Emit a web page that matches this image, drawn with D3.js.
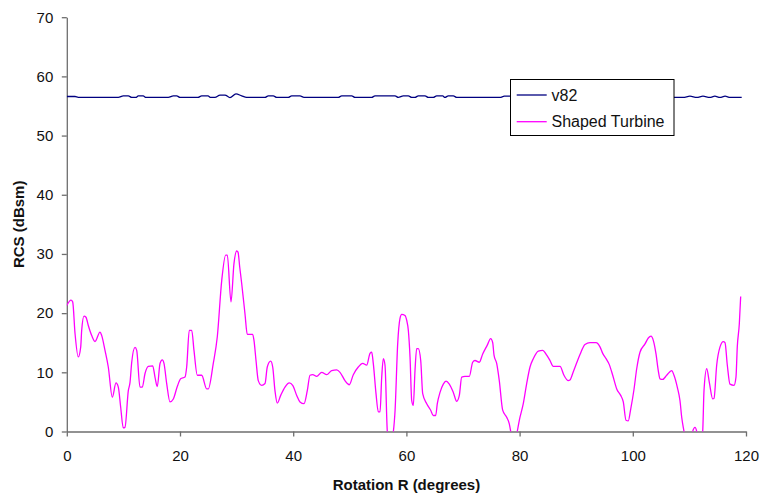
<!DOCTYPE html>
<html>
<head>
<meta charset="utf-8">
<script src="https://cdn.jsdelivr.net/npm/d3@7"></script>
<style>
  html, body { margin: 0; padding: 0; background: #fff; }
  svg { display: block; font-family: "Liberation Sans", Arial, sans-serif; }
</style>
</head>
<body>
<svg id="chart" width="762" height="497"></svg>
<script>
// ---- data ----
const xTicks = [0, 20, 40, 60, 80, 100, 120];
const yTicks = [0, 10, 20, 30, 40, 50, 60, 70];
const seriesNames = ["v82", "Shaped Turbine"];

// v82: [rotation degrees, RCS dBsm]
const v82 = [
  [0, 56.6], [1.45, 56.6], [2.03, 56.45], [9.1, 56.45], [9.98, 56.7], [10.87, 56.7],
  [11.47, 56.45], [12.2, 56.45], [12.63, 56.7], [13.5, 56.7], [13.99, 56.45],
  [17.93, 56.45], [18.82, 56.7], [19.42, 56.7], [20.0, 56.45], [23.18, 56.45],
  [23.83, 56.7], [24.95, 56.7], [25.42, 56.45], [26.18, 56.45], [27.07, 56.85],
  [27.95, 56.85], [28.83, 56.4], [29.89, 57.05], [30.9, 56.7], [31.78, 56.45],
  [35.02, 56.45], [35.6, 56.7], [36.48, 56.7], [37.08, 56.45], [39.13, 56.45],
  [39.73, 56.7], [41.2, 56.7], [41.91, 56.45], [47.97, 56.45], [48.57, 56.7],
  [50.34, 56.7], [50.92, 56.45], [53.87, 56.45], [54.45, 56.7], [57.99, 56.7],
  [58.57, 56.45], [59.45, 56.7], [60.34, 56.7], [60.94, 56.45], [61.52, 56.45],
  [62.1, 56.7], [63.29, 56.7], [63.87, 56.45], [64.75, 56.45], [65.35, 56.7],
  [66.41, 56.7], [66.82, 56.45], [67.4, 56.7], [68.29, 56.7], [68.89, 56.45],
  [76.54, 56.45], [77.3, 56.65], [78.3, 56.65], [79.0, 56.45], [84.0, 56.45],
  [84.8, 56.65], [86.0, 56.65], [86.7, 56.45], [95.0, 56.45], [95.8, 56.65],
  [97.0, 56.65], [97.7, 56.45], [107.4, 56.45], [108.9, 56.45], [110.1, 56.65],
  [111.3, 56.45], [112.4, 56.65], [113.6, 56.45], [114.5, 56.65], [115.4, 56.45],
  [116.3, 56.65], [117.2, 56.45], [119.24, 56.45]
];

// Shaped Turbine: [rotation degrees, RCS dBsm]
const shaped = [
  [0.0, 21.3], [0.74, 22.2], [1.04, 21.9], [1.45, 16.6], [2.03, 12.6], [2.46, 14.3],
  [2.63, 17.1], [3.04, 19.5], [3.39, 19.3], [3.8, 17.9], [4.4, 16.2], [4.98, 15.2],
  [5.87, 16.8], [6.17, 16.2], [6.75, 13.7], [7.33, 10.9], [8.04, 5.8], [8.69, 8.2],
  [9.1, 7.5], [9.52, 4.1], [9.98, 0.6], [10.28, 0.7], [10.87, 6.9], [11.17, 8.3],
  [11.47, 11.7], [12.05, 14.2], [12.35, 13.7], [12.93, 7.5], [13.34, 7.5], [13.82, 9.8],
  [14.4, 11.0], [15.18, 11.1], [15.58, 9.2], [15.99, 7.6], [16.47, 11.5], [16.87, 12.1],
  [17.17, 11.5], [17.65, 8.1], [18.23, 5.0], [18.82, 5.5], [19.52, 7.6], [20.12, 8.9],
  [20.88, 9.2], [21.18, 10.9], [21.64, 17.1], [22.07, 17.1], [22.47, 13.7], [23.06, 9.5],
  [23.83, 9.5], [24.72, 7.2], [25.0, 7.2], [25.88, 11.5], [26.59, 16.0], [27.37, 25.5],
  [28.07, 29.8], [28.36, 29.8], [29.01, 21.9], [29.54, 28.4], [30.02, 30.5], [30.25, 30.3],
  [30.55, 27.8], [30.9, 25.0], [31.48, 19.9], [31.89, 16.4], [32.84, 16.4], [33.07, 15.4],
  [33.43, 12.0], [33.83, 8.6], [34.43, 7.8], [35.02, 8.1], [35.42, 10.9], [36.02, 11.9],
  [36.38, 10.9], [36.78, 6.9], [37.19, 4.8], [37.79, 6.1], [38.55, 7.5], [39.31, 8.2],
  [39.91, 7.8], [40.62, 6.1], [41.2, 5.0], [41.91, 4.7], [42.49, 6.9], [42.97, 9.5],
  [43.45, 9.6], [44.15, 9.3], [45.04, 10.0], [45.92, 9.6], [46.8, 10.3], [47.69, 10.4],
  [48.27, 10.0], [49.15, 8.6], [49.91, 7.9], [50.62, 9.6], [51.5, 10.9], [52.28, 11.5],
  [52.99, 11.2], [53.57, 13.2], [53.87, 13.4], [54.15, 11.5], [54.63, 6.4], [55.04, 3.3],
  [55.34, 3.3], [55.64, 9.2], [55.92, 12.3], [56.22, 11.2], [56.63, 0], [57.0, -2],
  [57.4, -1.5], [57.7, 0], [58.0, 3.6], [58.46, 14.8], [58.87, 19.1], [59.17, 19.8],
  [59.75, 19.6], [60.05, 18.8], [60.34, 17.1], [60.64, 12.6], [60.94, 5.2], [61.22, 4.4],
  [61.52, 10.3], [61.82, 14.0], [62.1, 14.0], [62.53, 12.0], [62.88, 6.4], [63.59, 4.7],
  [64.29, 3.6], [64.75, 2.7], [65.17, 2.7], [65.46, 4.7], [65.94, 6.6], [66.52, 8.0],
  [67.0, 8.5], [67.58, 8.0], [68.29, 6.6], [68.89, 5.1], [69.35, 6.1], [69.77, 9.2],
  [70.35, 9.3], [71.11, 9.3], [71.71, 11.7], [72.12, 12.0], [72.88, 11.7], [73.48, 13.1],
  [74.29, 14.6], [74.89, 15.7], [75.25, 15.0], [75.48, 12.9], [75.95, 11.5], [76.41, 8.6],
  [77.01, 3.6], [77.72, 2.4], [78.18, 1.3], [78.43, 0], [78.75, -2], [79.27, -2],
  [79.59, 0], [79.95, 1.9], [80.65, 4.7], [81.25, 8.1], [81.84, 10.9], [82.42, 12.3],
  [83.3, 13.6], [84.08, 13.7], [84.79, 12.9], [85.37, 12.0], [85.95, 11.0], [87.14, 11.0],
  [87.84, 9.5], [88.6, 8.6], [88.9, 8.7], [89.49, 10.1], [90.09, 11.6], [90.67, 13.0],
  [91.55, 14.7], [92.44, 15.0], [93.5, 15.0], [94.2, 14.3], [94.68, 13.2], [95.27, 12.3],
  [95.85, 11.3], [96.45, 9.5], [97.16, 7.2], [97.86, 6.1], [98.32, 5.0], [98.8, 1.9],
  [99.2, 1.8], [99.63, 3.8], [100.21, 7.1], [100.69, 10.6], [101.27, 13.4], [102.16, 14.8],
  [102.74, 15.8], [103.22, 16.1], [103.62, 15.4], [104.1, 13.1], [104.5, 10.3], [104.81, 8.9],
  [105.28, 8.8], [105.99, 9.5], [106.87, 10.3], [107.28, 9.5], [107.86, 7.5], [108.34, 5.2],
  [108.64, 2.4], [109.05, 0], [109.4, -2], [110.3, -2], [110.58, 0], [110.99, 0.7],
  [111.29, 0], [111.6, -2], [112.05, -2], [112.35, 0], [112.58, 6.9], [113.06, 10.6],
  [113.52, 8.3], [114.12, 5.5], [114.35, 5.6], [114.82, 11.2], [115.41, 14.3], [115.99, 15.2],
  [116.29, 15.0], [116.7, 11.2], [117.17, 8.0], [117.88, 7.8], [118.23, 9.2], [118.46, 14.3],
  [118.82, 18.2], [119.06, 22.8]
];

// ---- layout ----
const svg = d3.select("#chart");
const pLeft = 66.8, pTop = 17.2, pRight = 746, pBottom = 431.5;
const x = d3.scaleLinear().domain([0, 120]).range([pLeft, pRight]);
const y = d3.scaleLinear().domain([0, 70]).range([pBottom, pTop]);
const axisColor = "#6e6e6e";

svg.append("defs").append("clipPath").attr("id", "plotClip")
  .append("rect").attr("x", pLeft).attr("y", pTop).attr("width", pRight - pLeft).attr("height", pBottom - pTop);

// y axis
const gy = svg.append("g").attr("transform", `translate(${pLeft},0)`)
  .call(d3.axisLeft(y).tickValues(yTicks).tickSize(5).tickSizeOuter(0).tickPadding(8.5));
// x axis
const gx = svg.append("g").attr("transform", `translate(0,${pBottom})`)
  .call(d3.axisBottom(x).tickValues(xTicks).tickSize(5).tickSizeOuter(0).tickPadding(14));

[gx, gy].forEach(g => {
  g.select(".domain").attr("stroke", axisColor).attr("stroke-width", 1.3);
  g.selectAll(".tick line").attr("stroke", axisColor).attr("stroke-width", 1.3);
  g.selectAll(".tick text").attr("fill", "#111").attr("font-size", "15px")
    .attr("font-family", "'Liberation Sans', Arial, sans-serif");
});

// axis titles
svg.append("text").attr("x", (pLeft + pRight) / 2).attr("y", 490)
  .attr("text-anchor", "middle").attr("font-weight", "bold").attr("font-size", "15px")
  .attr("fill", "#111").text("Rotation R (degrees)");
svg.append("text").attr("transform", `translate(23.5,${(pTop + pBottom) / 2}) rotate(-90)`)
  .attr("text-anchor", "middle").attr("font-weight", "bold").attr("font-size", "15px")
  .attr("fill", "#111").text("RCS (dBsm)");

// lines
const line = d3.line().x(d => x(d[0])).y(d => y(d[1])).curve(d3.curveMonotoneX);
const plot = svg.append("g").attr("clip-path", "url(#plotClip)");
plot.append("path").datum(v82).attr("d", line)
  .attr("fill", "none").attr("stroke", "#000080").attr("stroke-width", 1.3);
plot.append("path").datum(shaped).attr("d", line)
  .attr("fill", "none").attr("stroke", "#ff00ff").attr("stroke-width", 1.3);

// legend
const colors = ["#000080", "#ff00ff"];
const lg = svg.append("g");
lg.append("rect").attr("x", 510.5).attr("y", 79.5).attr("width", 163.5).attr("height", 56)
  .attr("fill", "#fff").attr("stroke", "#000").attr("stroke-width", 1);
const rowsY = [95, 121.7];
seriesNames.forEach((n, i) => {
  lg.append("line").attr("x1", 516.7).attr("x2", 546.7).attr("y1", rowsY[i]).attr("y2", rowsY[i])
    .attr("stroke", colors[i]).attr("stroke-width", 1.3);
  lg.append("text").attr("x", 551.5).attr("y", rowsY[i]).attr("dy", "0.35em")
    .attr("font-size", "16px").attr("fill", "#111").text(n);
});
</script>
</body>
</html>
